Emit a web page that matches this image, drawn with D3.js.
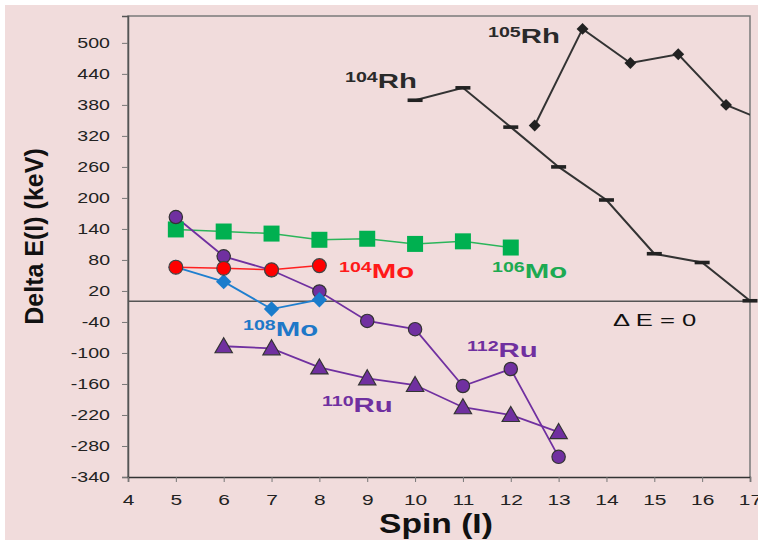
<!DOCTYPE html>
<html>
<head>
<meta charset="utf-8">
<script src="https://cdn.jsdelivr.net/npm/d3@7"></script>
<style>
  body { margin: 0; background: #fff; }
  text { font-family: "Liberation Sans", Arial, sans-serif; }
</style>
</head>
<body>
<script>
// spin values and delta E(I) in keV
var rh104Spin = [10, 11, 12, 13, 14, 15, 16, 17];
var rh104Val  = [389, 413, 337, 260, 196, 92, 75, 1];

var rh105Spin = [12.5, 13.5, 14.5, 15.5, 16.5, 17.5];
var rh105Val  = [340, 527, 461, 478, 380, 342];

var mo106Spin = [5, 6, 7, 8, 9, 10, 11, 12];
var mo106Val  = [139, 135, 131, 119, 121, 111, 116, 104];

var mo104Spin = [5, 6, 7, 8];
var mo104Val  = [66, 64, 61, 69];

var mo108Spin = [5, 6, 7, 8];
var mo108Val  = [66, 38, -15, 3];

var ru112Spin = [5, 6, 7, 8, 9, 10, 11, 12, 13];
var ru112Val  = [163, 87, 60, 19, -38, -54, -164, -131, -301];

var ru110Spin = [6, 7, 8, 9, 10, 11, 12, 13];
var ru110Val  = [-87, -91, -128, -149, -162, -205, -220, -253];

var yTicks = d3.range(-340, 501, 60);
var xTicks = d3.range(4, 18, 1);

var W = 758, H = 540;
// plot box edges (window.top is taken, so no "top" here)
var plotL = 128, plotR = 750, plotT = 16, plotB = 477;
// the source picture is a bit wide, text gets stretched sideways
var stretch = 1.35;

var svg = d3.select("body").append("svg")
	.attr("width", W).attr("height", H);

// pink background with a thin white border top/left
svg.append("rect")
	.attr("x", 5).attr("y", 5).attr("width", W - 5).attr("height", H - 5)
	.style("fill", "#f1dcdc");

var x = d3.scaleLinear().domain([4, 17]).range([plotL, plotR]);
var y = d3.scaleLinear().domain([-340, 552]).range([plotB, plotT]);

svg.append("clipPath").attr("id", "plotclip")
	.append("rect")
	.attr("x", plotL).attr("y", plotT).attr("width", plotR - plotL).attr("height", plotB - plotT);

// frame
svg.append("path")
	.attr("d", "M" + plotL + "," + plotB + "V" + plotT + "H" + plotR + "V" + plotB)
	.style("fill", "none").style("stroke", "#7a7a7a").style("stroke-width", 1.5);

// y axis (plain hyphen for negatives, like the original)
var yAxis = svg.append("g")
	.attr("transform", "translate(" + plotL + ",0)")
	.call(d3.axisLeft(y).tickValues(yTicks).tickSize(6).tickPadding(18)
		.tickFormat(function(d) { return String(d); }));
yAxis.select(".domain").style("stroke", "#555").style("stroke-width", 1.5);
yAxis.selectAll(".tick line").style("stroke", "#777");
yAxis.selectAll("text")
	.attr("x", -18 / stretch)
	.attr("transform", "scale(" + stretch + ",1)")
	.style("font-size", "14.5px").style("fill", "#222")
	.style("font-family", "'Liberation Sans', Arial, sans-serif");

// x axis
var xAxis = svg.append("g")
	.attr("transform", "translate(0," + plotB + ")")
	.call(d3.axisBottom(x).tickValues(xTicks).tickSize(5).tickPadding(12));
xAxis.select(".domain").style("stroke", "#333").style("stroke-width", 1.5);
xAxis.selectAll(".tick line").style("stroke", "#777");
xAxis.selectAll("text")
	.attr("transform", "scale(" + stretch + ",1)")
	.style("font-size", "15.5px").style("fill", "#222")
	.style("font-family", "'Liberation Sans', Arial, sans-serif");

// zero line
svg.append("line")
	.attr("x1", plotL).attr("x2", plotR)
	.attr("y1", y(0)).attr("y2", y(0))
	.style("stroke", "#555").style("stroke-width", 1.5);

// axis titles
svg.append("text")
	.attr("transform", "translate(43,236.5) rotate(-90)")
	.attr("text-anchor", "middle")
	.style("font-size", "25px").style("font-weight", "bold").style("fill", "#111")
	.text("Delta E(I) (keV)");

svg.append("text")
	.attr("transform", "translate(436,533) scale(1.2,1)")
	.attr("text-anchor", "middle")
	.style("font-size", "28px").style("font-weight", "bold").style("fill", "#111")
	.text("Spin (I)");

function toPoints(spins, vals) {
	return spins.map(function(s, i) { return {s: s, v: vals[i]}; });
}

var line = d3.line()
	.x(function(d) { return x(d.s); })
	.y(function(d) { return y(d.v); });

var series = [
	{name: "rh104", pts: toPoints(rh104Spin, rh104Val), line: "#333", width: 2, marker: "dash", fill: "#222"},
	{name: "rh105", pts: toPoints(rh105Spin, rh105Val), line: "#333", width: 2, marker: "diamond", fill: "#222", size: 90},
	{name: "mo106", pts: toPoints(mo106Spin, mo106Val), line: "#2bb55a", width: 1.5, marker: "square", fill: "#00b050", size: 256},
	{name: "ru110", pts: toPoints(ru110Spin, ru110Val), line: "#7030a0", width: 1.8, marker: "triangle", fill: "#7030a0", size: 130, stroke: "#333"},
	{name: "ru112", pts: toPoints(ru112Spin, ru112Val), line: "#7030a0", width: 1.8, marker: "circle", fill: "#7030a0", size: 140, stroke: "#333"},
	{name: "mo108", pts: toPoints(mo108Spin, mo108Val), line: "#1f7fcf", width: 1.8, marker: "diamond", fill: "#1a7ccc", size: 150},
	{name: "mo104", pts: toPoints(mo104Spin, mo104Val), line: "#ff2020", width: 1.5, marker: "circle", fill: "#ff0000", size: 150, stroke: "#444"}
];

var symbols = {
	diamond: d3.symbolDiamond2,
	square: d3.symbolSquare,
	triangle: d3.symbolTriangle,
	circle: d3.symbolCircle
};

series.forEach(function(sr) {
	svg.append("path")
		.datum(sr.pts)
		.attr("clip-path", "url(#plotclip)")
		.attr("d", line)
		.style("fill", "none")
		.style("stroke", sr.line)
		.style("stroke-width", sr.width);
});

series.forEach(function(sr) {
	var shown = sr.pts.filter(function(d) { return d.s <= 17; });
	var g = svg.append("g").attr("class", "markers-" + sr.name);
	if (sr.marker === "dash") {
		g.selectAll("rect").data(shown).enter().append("rect")
			.attr("x", function(d) { return x(d.s) - 7.5; })
			.attr("y", function(d) { return y(d.v) - 1.8; })
			.attr("width", 15).attr("height", 3.6)
			.style("fill", sr.fill);
	} else {
		g.selectAll("path").data(shown).enter().append("path")
			.attr("transform", function(d) {
				var dy = sr.marker === "triangle" ? 1.5 : 0;
				return "translate(" + x(d.s) + "," + (y(d.v) + dy) + ")";
			})
			.attr("d", d3.symbol().type(symbols[sr.marker]).size(sr.size))
			.style("fill", sr.fill)
			.style("stroke", sr.stroke || "none")
			.style("stroke-width", sr.stroke ? 1.2 : 0);
	}
});

// series labels with superscript mass numbers
var labels = [
	{sup: "104", main: "Rh", x: 345, y: 88, color: "#2a2a2a"},
	{sup: "105", main: "Rh", x: 488, y: 43, color: "#2a2a2a"},
	{sup: "104", main: "Mo", x: 339, y: 278, color: "#ff1a1a"},
	{sup: "106", main: "Mo", x: 492, y: 278, color: "#1daa52"},
	{sup: "108", main: "Mo", x: 243, y: 336, color: "#1f78c8"},
	{sup: "112", main: "Ru", x: 467, y: 357, color: "#7030a0"},
	{sup: "110", main: "Ru", x: 322, y: 412, color: "#7030a0"}
];

labels.forEach(function(l) {
	var t = svg.append("text")
		.attr("transform", "translate(" + l.x + "," + l.y + ") scale(1.4,1)")
		.style("fill", l.color).style("font-weight", "bold");
	t.append("tspan").attr("dy", -6).style("font-size", "14px").text(l.sup);
	t.append("tspan").attr("dy", 6).style("font-size", "21px").text(l.main);
});

svg.append("text")
	.attr("transform", "translate(613,326) scale(1.6,1)")
	.style("font-size", "16px").style("fill", "#111")
	.text("\u0394 E = 0");
</script>
</body>
</html>
